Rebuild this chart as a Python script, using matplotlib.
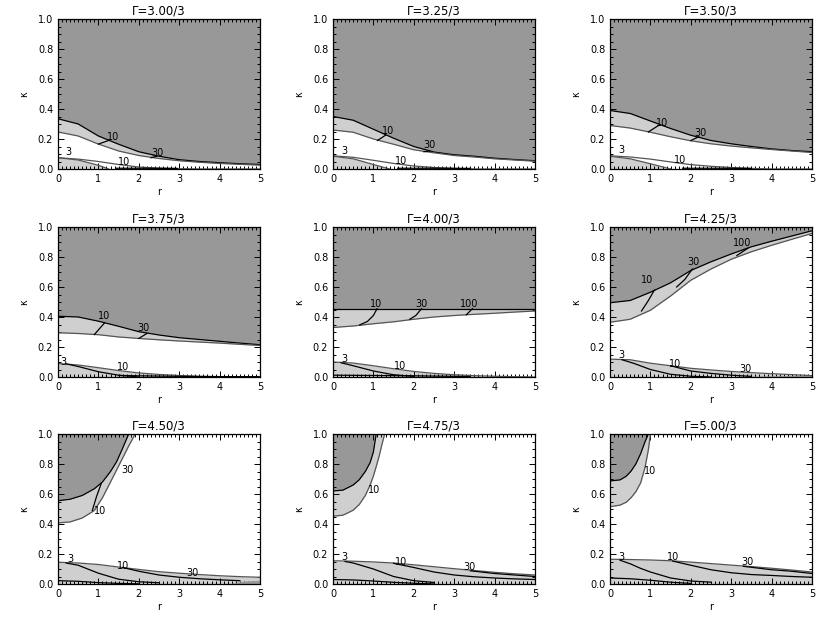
import numpy as np
import matplotlib.pyplot as plt
from matplotlib.ticker import MultipleLocator

# adiabatic index of each panel (title reads Gamma = value/3)
GAMMA = ['3.00', '3.25', '3.50', '3.75', '4.00', '4.25', '4.50', '4.75', '5.00']

# common r grid for the smooth curves
R_GRID = [0, 0.5, 1, 1.5, 2, 2.5, 3, 3.5, 4, 4.5, 5]

# upper band: r samples, top edge (dark above) and lower edge (light between)
UP_R = [R_GRID] * 6 + [
    [0, 0.3, 0.6, 0.9, 1.1, 1.3, 1.45, 1.6, 1.75, 1.91],
    [0, 0.25, 0.5, 0.65, 0.8, 0.92, 1.0, 1.07, 1.15, 1.22, 1.28],
    [0, 0.25, 0.4, 0.52, 0.64, 0.76, 0.87, 0.95, 1.0],
]
UP_TOP = [
    [0.335, 0.30, 0.22, 0.165, 0.115, 0.085, 0.062, 0.05, 0.042, 0.035, 0.03],
    [0.35, 0.325, 0.265, 0.205, 0.15, 0.113, 0.095, 0.085, 0.072, 0.063, 0.055],
    [0.39, 0.37, 0.32, 0.27, 0.225, 0.19, 0.168, 0.15, 0.134, 0.123, 0.115],
    [0.405, 0.40, 0.372, 0.338, 0.302, 0.28, 0.262, 0.25, 0.238, 0.226, 0.215],
    [0.455, 0.455, 0.455, 0.455, 0.455, 0.455, 0.455, 0.455, 0.455, 0.455, 0.455],
    [0.495, 0.51, 0.565, 0.628, 0.71, 0.768, 0.82, 0.868, 0.905, 0.94, 0.975],
    [0.555, 0.565, 0.59, 0.635, 0.68, 0.75, 0.815, 0.905, 1.0, 1.0],
    [0.62, 0.626, 0.66, 0.695, 0.75, 0.81, 0.88, 1.0, 1.0, 1.0, 1.0],
    [0.687, 0.694, 0.718, 0.752, 0.80, 0.87, 0.95, 1.0, 1.0],
]
UP_MID = [
    [0.247, 0.22, 0.166, 0.12, 0.09, 0.07, 0.055, 0.045, 0.037, 0.031, 0.026],
    [0.26, 0.245, 0.20, 0.165, 0.128, 0.108, 0.09, 0.08, 0.068, 0.06, 0.052],
    [0.29, 0.273, 0.245, 0.215, 0.188, 0.168, 0.153, 0.141, 0.13, 0.12, 0.11],
    [0.295, 0.29, 0.282, 0.267, 0.257, 0.248, 0.24, 0.233, 0.226, 0.218, 0.21],
    [0.33, 0.34, 0.355, 0.368, 0.385, 0.40, 0.41, 0.418, 0.425, 0.433, 0.44],
    [0.365, 0.385, 0.445, 0.54, 0.645, 0.72, 0.785, 0.835, 0.878, 0.918, 0.957],
    [0.407, 0.414, 0.44, 0.49, 0.575, 0.68, 0.76, 0.84, 0.92, 1.0],
    [0.452, 0.459, 0.492, 0.53, 0.59, 0.66, 0.72, 0.783, 0.86, 0.94, 1.0],
    [0.515, 0.526, 0.545, 0.575, 0.615, 0.675, 0.78, 0.895, 1.0],
]
# contour pieces crossing the upper band
UP_CUTS = [
    [([1.0, 1.25], [0.166, 0.19]), ([2.3, 2.45], [0.075, 0.085])],
    [([1.1, 1.3], [0.19, 0.225]), ([2.25, 2.4], [0.115, 0.12])],
    [([0.95, 1.2], [0.247, 0.29]), ([2.0, 2.2], [0.19, 0.215])],
    [([0.9, 1.15], [0.283, 0.36]), ([2.0, 2.2], [0.257, 0.29])],
    [([0.66, 0.85, 1.0, 1.09], [0.347, 0.37, 0.41, 0.455]),
     ([1.9, 2.05, 2.19], [0.385, 0.41, 0.455]),
     ([3.3, 3.45], [0.415, 0.455])],
    [([0.78, 0.95, 1.1], [0.44, 0.51, 0.58]),
     ([1.65, 1.85, 2.04], [0.60, 0.65, 0.72]),
     ([3.14, 3.42], [0.81, 0.86])],
    [([0.85, 0.95, 1.07], [0.49, 0.58, 0.67])],
    [],
    [],
]
UP_LABELS = [
    [('10', 1.37, 0.21), ('30', 2.45, 0.105)],
    [('10', 1.36, 0.25), ('30', 2.39, 0.16)],
    [('10', 1.28, 0.305), ('30', 2.23, 0.243)],
    [('10', 1.13, 0.405), ('30', 2.12, 0.33)],
    [('10', 1.07, 0.49), ('30', 2.19, 0.49), ('100', 3.38, 0.49)],
    [('10', 0.91, 0.644), ('30', 2.06, 0.765), ('100', 3.26, 0.895)],
    [('10', 1.04, 0.49), ('30', 1.72, 0.76)],
    [('10', 1.02, 0.626)],
    [('10', 0.98, 0.75)],
]

# lower band: top edge on R_GRID
LO_TOP = [
    [0.075, 0.066, 0.05, 0.03, 0.013, 0.006, 0.002, 0, 0, 0, 0],
    [0.088, 0.078, 0.058, 0.037, 0.02, 0.01, 0.004, 0, 0, 0, 0],
    [0.088, 0.08, 0.066, 0.047, 0.029, 0.018, 0.01, 0.004, 0, 0, 0],
    [0.09, 0.08, 0.062, 0.043, 0.027, 0.017, 0.01, 0.005, 0.002, 0, 0],
    [0.10, 0.093, 0.075, 0.055, 0.037, 0.024, 0.015, 0.009, 0.005, 0.002, 0],
    [0.119, 0.115, 0.092, 0.075, 0.058, 0.047, 0.037, 0.029, 0.022, 0.016, 0.009],
    [0.145, 0.14, 0.13, 0.113, 0.097, 0.082, 0.072, 0.063, 0.055, 0.049, 0.045],
    [0.155, 0.152, 0.147, 0.14, 0.128, 0.115, 0.102, 0.09, 0.078, 0.068, 0.06],
    [0.165, 0.163, 0.16, 0.155, 0.146, 0.136, 0.126, 0.116, 0.105, 0.093, 0.08],
]
# light fill of the lower band when it differs from LO_TOP
LO_FILL = [
    ([0, 0.5, 1, 1.25], [0.075, 0.06, 0.025, 0.0]),
    ([0, 0.5, 1, 1.4], [0.085, 0.068, 0.03, 0.0]),
    ([0, 0.5, 1, 1.5], [0.085, 0.068, 0.035, 0.0]),
    None, None, None, None, None, None,
]
# small dark patches at the bottom
LO_DARK = [
    None, None, None, None, None,
    ([3.4, 4, 4.5, 5], [0.004, 0.008, 0.009, 0.01]),
    ([4.2, 4.6, 5], [0.0, 0.02, 0.025]),
    None, None,
]
LO_LINES = [
    [([1.45, 2.0, 2.95], [0.005, 0.005, 0.004])],
    [([1.6, 2.5, 3.4], [0.005, 0.005, 0.004])],
    [([1.8, 2.6, 3.5], [0.005, 0.005, 0.004])],
    [([0.2, 0.5, 1, 1.5, 2], [0.088, 0.07, 0.035, 0.012, 0.0]),
     ([1.5, 2.5, 3.5, 5], [0.01, 0.006, 0.003, 0.002])],
    [([0.2, 0.5, 1, 1.5, 2], [0.095, 0.075, 0.04, 0.015, 0.004]),
     ([0, 1, 2, 2.5, 3.4], [0.012, 0.01, 0.008, 0.006, 0.003])],
    [([0.3, 0.6, 1, 1.5, 2, 2.5], [0.115, 0.09, 0.05, 0.018, 0.005, 0.0]),
     ([1.5, 2, 2.5, 3, 3.5], [0.075, 0.04, 0.024, 0.012, 0.004])],
    [([0.2, 0.5, 1, 1.5, 2, 2.5], [0.14, 0.125, 0.072, 0.032, 0.015, 0.008]),
     ([1.6, 2, 2.5, 3, 3.5, 4, 4.5], [0.11, 0.085, 0.06, 0.045, 0.035, 0.028, 0.022]),
     ([0, 0.5, 1, 1.5, 2], [0.022, 0.018, 0.009, 0.004, 0.001])],
    [([0.3, 0.5, 1, 1.5, 2, 2.5], [0.15, 0.14, 0.1, 0.05, 0.022, 0.01]),
     ([1.5, 2, 2.5, 3, 3.5, 4, 4.5, 5], [0.138, 0.11, 0.08, 0.06, 0.048, 0.04, 0.034, 0.03]),
     ([3.4, 4, 4.5, 5], [0.088, 0.07, 0.06, 0.05]),
     ([0, 0.5, 1, 1.5, 2, 2.5], [0.03, 0.027, 0.02, 0.011, 0.005, 0.0])],
    [([0.25, 0.5, 0.75, 1, 1.5, 2, 2.5], [0.158, 0.135, 0.105, 0.08, 0.04, 0.02, 0.012]),
     ([1.55, 2, 2.5, 3, 3.5, 4, 4.5, 5], [0.153, 0.125, 0.095, 0.075, 0.063, 0.057, 0.05, 0.045]),
     ([3.3, 4, 4.5, 5], [0.118, 0.095, 0.085, 0.07]),
     ([0, 0.5, 1, 1.5, 2], [0.04, 0.035, 0.025, 0.012, 0.004])],
]
LO_LABELS = [
    [('3', 0.26, 0.115), ('10', 1.64, 0.045)],
    [('3', 0.29, 0.117), ('10', 1.69, 0.05)],
    [('3', 0.29, 0.128), ('10', 1.74, 0.062)],
    [('3', 0.13, 0.10), ('10', 1.62, 0.066)],
    [('3', 0.29, 0.119), ('10', 1.65, 0.073)],
    [('3', 0.29, 0.146), ('10', 1.61, 0.089), ('30', 3.35, 0.05)],
    [('3', 0.30, 0.168), ('10', 1.62, 0.123), ('30', 3.32, 0.072)],
    [('3', 0.29, 0.179), ('10', 1.69, 0.145), ('30', 3.38, 0.116)],
    [('3', 0.29, 0.179), ('10', 1.57, 0.179), ('30', 3.39, 0.145)],
]

DARK = '#989898'
LIGHT = '#cfcfcf'
EDGE = '#555555'

fig = plt.figure(figsize=(8.3, 6.23), dpi=100)
col_px = [58, 333, 610]
row_px = [19, 227, 434]

for i in range(9):
    row, col = divmod(i, 3)
    ax = fig.add_axes([col_px[col] / 830, 1 - (row_px[row] + 150) / 623,
                       202 / 830, 150 / 623])

    # upper band
    ur = np.array(UP_R[i])
    top = np.array(UP_TOP[i])
    mid = np.array(UP_MID[i])
    ax.fill_between(ur, top, 1.0, color=DARK, lw=0, zorder=1)
    ax.fill_between(ur, mid, top, color=LIGHT, lw=0, zorder=1)
    ax.plot(ur, top, color='k', lw=0.9, zorder=3)
    ax.plot(ur, mid, color=EDGE, lw=0.9, zorder=3)
    for cr, ck in UP_CUTS[i]:
        ax.plot(cr, ck, color='k', lw=0.9, zorder=3)

    # lower band
    lo = np.array(LO_TOP[i])
    if LO_FILL[i] is None:
        ax.fill_between(R_GRID, 0, lo, color=LIGHT, lw=0, zorder=1)
    else:
        fr, fk = LO_FILL[i]
        ax.fill_between(fr, 0, fk, color=LIGHT, lw=0, zorder=1)
        ax.plot(fr, fk, color=EDGE, lw=0.9, zorder=3)
    if LO_DARK[i] is not None:
        dr, dk = LO_DARK[i]
        ax.fill_between(dr, 0, dk, color=DARK, lw=0, zorder=2)
    ax.plot(R_GRID, lo, color=EDGE, lw=0.9, zorder=3)
    for lr, lk in LO_LINES[i]:
        ax.plot(lr, lk, color='k', lw=0.9, zorder=3)

    for txt, x, y in UP_LABELS[i] + LO_LABELS[i]:
        ax.text(x, y, txt, fontsize=7, ha='center', va='center', zorder=4)

    ax.set_xlim(0, 5)
    ax.set_ylim(0, 1)
    ax.xaxis.set_major_locator(MultipleLocator(1))
    ax.xaxis.set_minor_locator(MultipleLocator(0.1))
    ax.yaxis.set_major_locator(MultipleLocator(0.2))
    ax.yaxis.set_minor_locator(MultipleLocator(0.05))
    ax.yaxis.set_major_formatter('{x:.1f}')
    ax.tick_params(which='both', direction='in', top=True, right=True,
                   labelsize=7, width=0.7, colors='k')
    ax.tick_params(which='major', length=4)
    ax.tick_params(which='minor', length=2)
    for s in ax.spines.values():
        s.set_linewidth(0.9)
        s.set_zorder(5)
    ax.set_title('Γ=%s/3' % GAMMA[i], fontsize=8.5, pad=3)
    ax.set_xlabel('r', fontsize=7, labelpad=2)
    ax.set_ylabel('κ', fontsize=7, labelpad=6)

fig.savefig('out.png', dpi=100)
